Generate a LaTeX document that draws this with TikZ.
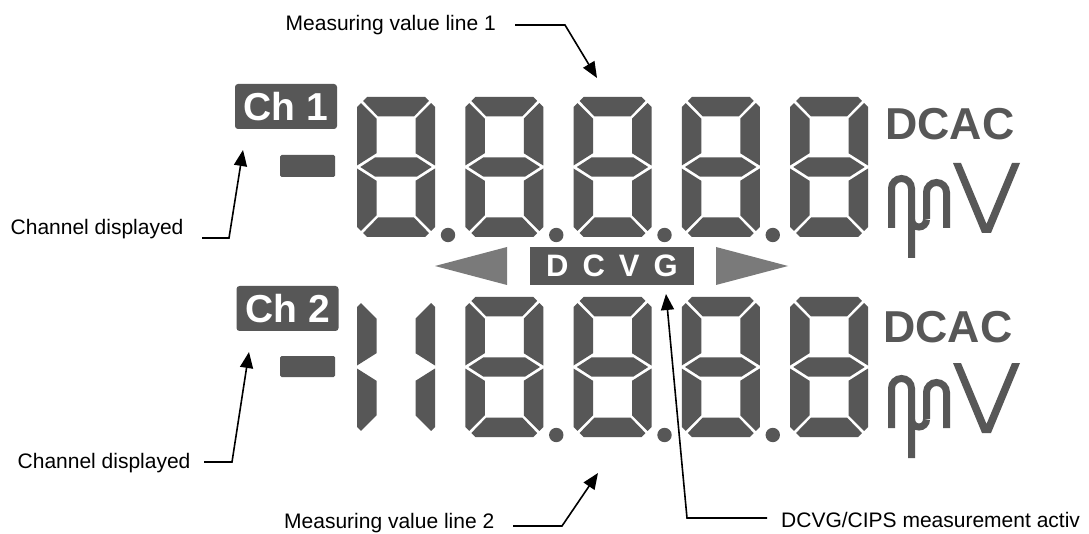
\documentclass[tikz,border=0pt]{standalone}
\usepackage{fontspec}
\setmainfont{Liberation Sans}
\usetikzlibrary{arrows.meta}
\definecolor{lcd}{HTML}{575757}
\definecolor{tri}{HTML}{7A7A7A}
% seven-segment pieces (digit 78 x 140, y downwards)
\newcommand\segA{\fill[lcd] (10,0)--(68,0)--(71.95,3.95)--(56.9,19.5)--(21.1,19.5)--(6.05,3.95)--cycle;}
\newcommand\segF{\fill[lcd] (0,10)--(3.95,6.05)--(19.5,21.6)--(19.5,56.2)--(0,68.5)--cycle;}
\newcommand\segG{\fill[lcd] (3.3,70)--(18.3,60.3)--(59.7,60.3)--(74.7,70)--(59.7,79.7)--(18.3,79.7)--cycle;}
\newcommand\dA{\segA}
\newcommand\dD{\begin{scope}[yshift=-140pt,yscale=-1]\segA\end{scope}}
\newcommand\dF{\segF}
\newcommand\dB{\begin{scope}[xshift=78pt,xscale=-1]\segF\end{scope}}
\newcommand\dE{\begin{scope}[yshift=-140pt,yscale=-1]\segF\end{scope}}
\newcommand\dC{\begin{scope}[xshift=78pt,yshift=-140pt,xscale=-1,yscale=-1]\segF\end{scope}}
\newcommand\dG{\segG}
\newcommand\eightdigit[2]{\begin{scope}[shift={(#1,#2)}]\dA\dB\dC\dD\dE\dF\dG\end{scope}}
\newcommand\vertdigit[2]{\begin{scope}[shift={(#1,#2)}]\dB\dC\dE\dF\end{scope}}
\newcommand\munit[2]{\begin{scope}[shift={(#1,#2)}]
  % m / mu overlay glyph (origin = line-1 placement)
  \draw[lcd,line width=7pt] (891.5,228) -- (891.5,188.5) arc[start angle=180,end angle=360,radius=10] -- (911.5,258);
  \draw[lcd,line width=7pt] (926.5,219) -- (926.5,192.5) arc[start angle=180,end angle=360,radius=10] -- (946.5,228);
  \draw[lcd,line width=7pt] (926.5,219.5) arc[start angle=0,end angle=180,radius=7.5];
  \fill[lcd] (953,163)--(961,163)--(986.5,224)--(1012,163)--(1020,163)--(991,233)--(982,233)--cycle;
\end{scope}}
\tikzset{
  chbox/.style={fill=lcd,rounded corners=3pt,text=white,inner sep=0pt,
    minimum width=102pt,minimum height=45pt,font=\bfseries\fontsize{39}{39}\selectfont},
  dcac/.style={anchor=base west,inner sep=0pt,text=lcd,font=\bfseries\fontsize{44.7}{44.7}\selectfont},
  note/.style={anchor=base west,inner sep=0pt,font=\fontsize{21}{21}\selectfont},
  arr/.style={line width=1.6pt,-{Triangle[length=16pt,width=13pt]}},
}
\begin{document}
\begin{tikzpicture}[x=1pt,y=-1pt]
\fill[white] (0,0) rectangle (1089,534);
\useasboundingbox (0,0) rectangle (1089,534);

% ---- line 1 ----
\node[chbox] (ch1) at (286,106.5) {Ch 1};
\fill[lcd,rounded corners=1.5pt] (280,155) rectangle (335,177);
\foreach \x in {357,465.25,573.5,681.75,790} {\eightdigit{\x}{97}}
\foreach \x in {448,556.25,664.5,772.75} {\fill[lcd] (\x,235) circle[radius=7.2pt];}
\node[dcac] (dcac1) at (885,140) {DCAC};
\munit{0}{0}

% ---- middle ----
\fill[tri] (435,266)--(507,247)--(507,285)--cycle;
\fill[tri] (788,266)--(716,247)--(716,285)--cycle;
\node[fill=lcd,inner sep=0pt,minimum width=164pt,minimum height=38pt,text=white,
  font=\bfseries\fontsize{31}{31}\selectfont] (dcvg) at (612,266)
  {D\hspace{14pt}C\hspace{14pt}V\hspace{14pt}G};

% ---- line 2 ----
\node[chbox] (ch2) at (287.5,308.5) {Ch 2};
\fill[lcd,rounded corners=1.5pt] (280,356) rectangle (335,377);
\vertdigit{357}{297}
\foreach \x in {465.25,573.5,681.75,790} {\eightdigit{\x}{297}}
\foreach \x in {556.25,664.5,772.75} {\fill[lcd] (\x,435) circle[radius=7.2pt];}
\node[dcac] (dcac2) at (883,342) {DCAC};
\munit{0}{200}

% ---- annotations ----
\node[note] (lab1) at (285.5,31) {Measuring value line 1};
\node[note] (chl1) at (10.5,235) {Channel displayed};
\node[note] (chl2) at (17.5,468) {Channel displayed};
\node[note] (lab2) at (284,528) {Measuring value line 2};
\node[note] (lab3) at (781,527) {DCVG/CIPS measurement activ};

\coordinate (m1s) at (515,25);  \coordinate (m1c) at (565,25);  \coordinate (m1t) at (597,78);
\coordinate (c1s) at (202,238); \coordinate (c1c) at (229,238); \coordinate (c1t) at (243,150);
\coordinate (c2s) at (204,462); \coordinate (c2c) at (232,462); \coordinate (c2t) at (249,352);
\coordinate (m2s) at (513,526); \coordinate (m2c) at (562,526); \coordinate (m2t) at (598,473);
\coordinate (d1s) at (767,518); \coordinate (d1c) at (687,518); \coordinate (d1t) at (666,294);

\draw[arr] (m1s) -- (m1c) -- (m1t);
\draw[arr] (c1s) -- (c1c) -- (c1t);
\draw[arr] (c2s) -- (c2c) -- (c2t);
\draw[arr] (m2s) -- (m2c) -- (m2t);
\draw[arr] (d1s) -- (d1c) -- (d1t);
\end{tikzpicture}
\end{document}
